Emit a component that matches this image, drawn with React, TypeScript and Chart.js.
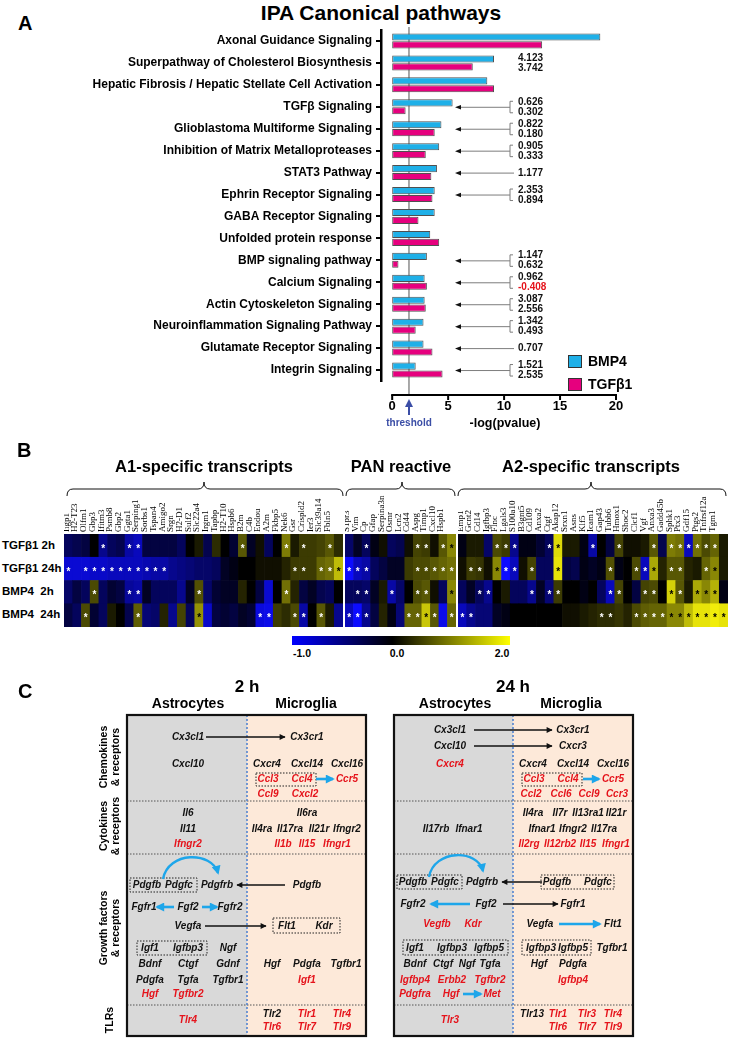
import React, { useEffect, useRef } from "react";
import { Chart, registerables } from "chart.js";

Chart.register(...registerables);

const FONT = '"Liberation Sans", Arial, Helvetica, sans-serif';
const SERIF = '"Liberation Serif", "Times New Roman", serif';
const RED = "#e5131b";
const BLUE_ARROW = "#1ea6ea";

// ---------------- Panel A data ----------------
const pathways = [
  "Axonal Guidance Signaling",
  "Superpathway of Cholesterol Biosynthesis",
  "Hepatic Fibrosis / Hepatic Stellate Cell Activation",
  "TGFβ Signaling",
  "Glioblastoma Multiforme Signaling",
  "Inhibition of Matrix Metalloproteases",
  "STAT3 Pathway",
  "Ephrin Receptor Signaling",
  "GABA Receptor Signaling",
  "Unfolded protein response",
  "BMP signaling pathway",
  "Calcium Signaling",
  "Actin Cytoskeleton Signaling",
  "Neuroinflammation Signaling Pathway",
  "Glutamate Receptor Signaling",
  "Integrin Signaling",
];
const bmp4Values = [18.6, 9.1, 8.5, 5.4, 4.4, 4.2, 4.0, 3.8, 3.8, 3.4, 3.1, 2.9, 2.9, 2.8, 2.8, 2.1];
const tgfb1Values = [13.4, 7.2, 9.1, 1.2, 3.8, 3.0, 3.5, 3.6, 2.35, 4.2, 0.56, 3.1, 3.0, 2.1, 3.6, 4.5];
const zScoreBMP4 = ["", "4.123", "", "0.626", "0.822", "0.905", "1.177", "2.353", "", "", "1.147", "0.962", "3.087", "1.342", "0.707", "1.521"];
const zScoreTGFB1 = ["", "3.742", "", "0.302", "0.180", "0.333", "", "0.894", "", "", "0.632", "-0.408", "2.556", "0.493", "", "2.535"];
const zArrow = [0, 0, 0, 1, 1, 1, 1, 1, 0, 0, 1, 1, 1, 1, 1, 1];
const xTickValues = [0, 5, 10, 15, 20];
const thresholdValue = 1.5;

// ---------------- Panel B data ----------------
const heatRowLabels = ["TGFβ1 2h", "TGFβ1 24h", "BMP4  2h", "BMP4  24h"];
const a1Genes = ["Igtp", "Iigp1", "H2-T23", "Olfm1", "Gbp3", "Ifitm3", "Psmb8", "Gbp2", "Ggta1", "Serping1", "Sorbs1", "Tspan4", "Amigo2", "Srgn", "H2-D1", "Sulf2", "Slc22a4", "Irgm1", "Tapbp", "H2-T10", "Hspb6", "B2m", "C4b", "Endou", "A2m", "Fkbp5", "Nek6", "Gsr", "Crispld2", "Ier3", "Slc39a14", "Fbln5"];
const panGenes = ["Steap4", "S1pr3", "Vim", "Cp", "Gfap", "Serpina3n", "Osmr", "Lcn2", "Cd44", "Aspg", "Timp1", "Cxcl10", "Hspb1"];
const a2Genes = ["Tm4sf1", "Emp1", "Gcnt2", "Cd14", "Igfbp3", "Flnc", "Lgals3", "S100a10", "B3gnt5", "Cd109", "Anxa2", "Ctgf", "Akap12", "Srxn1", "Asns", "Klf5", "Icam1", "Gap43", "Tubb6", "Hmox1", "Shoc2", "Clcf1", "Vgf", "Anxa3", "Gadd45b", "Sphk1", "Ptx3", "Gdf15", "Ptgs2", "Tnfrsf12a", "Tgm1"];

const a1TGF2h = [-0.3, -0.25, -0.2, 0, -0.5, -0.3, -0.25, -0.6, -0.7, -0.2, -0.2, -0.2, -0.2, -0.3, 0, 0.1, -0.25, 0.2, 0, -0.15, 0.5, -0.1, 0.05, -0.3, 0, 0.8, 0.1, 0.3, 0.3, 0.35, 0.5, 0.2];
const a1TGF24h = [-0.8, -0.8, -0.8, -0.75, -0.75, -0.7, -0.7, -0.7, -0.7, -0.65, -0.6, -0.6, -0.5, -0.45, -0.4, -0.35, -0.35, -0.3, -0.1, -0.05, 0, 0, 0.05, 0.05, 0.05, 0.15, 0.3, 0.3, 0.3, 0.6, 0.7, 1.4];
const a1BMP2h = [-0.35, -0.2, -0.3, 0.4, -0.3, -0.15, -0.2, -0.55, -0.6, -0.1, -0.3, -0.3, -0.3, -0.5, -0.1, 0.45, -0.35, -0.15, -0.1, -0.1, 0.15, 0, -0.2, -0.8, 0, 0.7, 0.15, -0.2, -0.1, -0.25, -0.3, 0];
const a1BMP24h = [-0.2, -0.3, 0.4, -0.15, -0.3, 0.1, 0, -0.25, 0.55, -0.4, -0.35, 0.15, -0.5, 0.35, -0.3, 1.0, -0.75, -0.2, -0.15, -0.2, -0.1, -0.15, -0.85, -0.9, 0.3, 0.2, 0.4, -0.6, 0, 0.5, 0.1, -0.5];

const panTGF2h = [-0.35, -0.1, -0.3, -0.05, 0.05, -0.3, -0.25, 0.05, 0.35, 0.3, 0.05, 0.5, 0.9];
const panTGF24h = [-1.0, -0.7, -0.6, -0.3, -0.2, -0.1, -0.1, 0.3, 0.4, 0.4, 0.5, 0.6, 0.7];
const panBMP2h = [-0.3, -0.3, -0.35, -0.1, 0.1, -0.6, -0.35, 0, 0.4, 0.5, 0.05, -0.3, 0.9];
const panBMP24h = [-0.7, -1.0, -0.5, -0.2, 0.15, -0.05, -0.4, 0.6, 0.6, 1.5, 0.5, -0.9, 0.6];

const a2TGF2h = [-0.05, 0.1, 0.1, -0.35, 0.4, 0.3, -0.5, -0.05, -0.05, -0.15, -0.3, 1.7, 0.1, 0.1, -0.05, -0.6, 0, -0.2, 0.35, 0.05, 0.05, 0.1, 0.5, -0.25, 0.8, 0.7, -0.7, 0.7, 0.4, 0.6, 0.1];
const a2TGF24h = [0.05, 0.3, 0.25, 0.05, 0.9, -1.0, -0.7, 0.05, 0.35, -0.3, -0.3, 1.8, -0.2, -0.25, -0.05, -0.1, -0.05, 0.45, -0.05, 0, 0.4, -0.7, 1.2, 0.15, 0.5, 0.5, 0.15, 0.1, 0.6, 0.9, 0.1];
const a2BMP2h = [-0.3, -0.1, -0.3, -0.5, 0, 0.1, -0.3, -0.3, -0.5, -0.1, -0.4, 0.3, 0, 0, -0.05, 0, -0.3, -0.7, 0.35, 0, -0.2, 0.35, 0.4, 0, 1.6, 0.5, 0.1, 1.2, 0.9, 1.3, -0.05];
const a2BMP24h = [-0.7, -0.5, -0.4, -0.4, -0.1, -0.05, 0, 0, 0, 0, 0, 0, 0.05, 0.05, 0.1, 0.15, 0.2, 0.2, 0.25, 0.15, 0.4, 0.55, 0.6, 0.6, 0.9, 0.9, 1.4, 1.8, 1.8, 1.9, 1.8];

// significance stars (gene indices)
const a1StarsTGF2h = [4, 7, 8, 20, 25, 27, 30];
const a1StarsTGF24h = [0, 2, 3, 4, 5, 6, 7, 8, 9, 10, 11, 26, 27, 29, 30, 31];
const a1StarsBMP2h = [3, 7, 8, 15, 25];
const a1StarsBMP24h = [2, 8, 15, 22, 23, 26, 27, 29];
const panStarsTGF2h = [2, 8, 9, 11, 12];
const panStarsTGF24h = [0, 1, 2, 8, 9, 10, 11, 12];
const panStarsBMP2h = [1, 2, 5, 8, 9, 12];
const panStarsBMP24h = [0, 1, 2, 7, 8, 9, 10, 12];
const a2StarsTGF2h = [4, 5, 6, 10, 11, 15, 18, 22, 24, 25, 26, 27, 28, 29];
const a2StarsTGF24h = [1, 2, 4, 5, 6, 8, 11, 17, 20, 21, 22, 24, 25, 28, 29];
const a2StarsBMP2h = [2, 3, 8, 10, 11, 17, 18, 21, 22, 24, 25, 27, 28, 29];
const a2StarsBMP24h = [0, 1, 16, 17, 20, 21, 22, 23, 24, 25, 26, 27, 28, 29, 30];

const colorbarTicks = ["-1.0", "0.0", "2.0"];

// ---------------- helpers ----------------
const heatColor = (v: number) => {
  if (v < 0) {
    const t = Math.pow(Math.min(1, -v), 0.85);
    return `rgb(${Math.round(12 * t)},${Math.round(12 * t)},${Math.round(255 * t)})`;
  }
  const t = Math.pow(Math.min(1, v / 2), 0.75);
  return `rgb(${Math.round(250 * t)},${Math.round(246 * t)},${Math.round(10 * t)})`;
};

const panelAPlugin = {
  id: "panelAExtras",
  beforeDatasetsDraw(chart: any) {
    const { ctx, chartArea, scales } = chart;
    const x = scales.x;
    const axisY = chartArea.bottom + 14;
    const tx = x.getPixelForValue(thresholdValue);
    ctx.save();
    ctx.strokeStyle = "#8c8c8c";
    ctx.lineWidth = 1.5;
    ctx.beginPath();
    ctx.moveTo(tx, chartArea.top - 3);
    ctx.lineTo(tx, axisY);
    ctx.stroke();
    ctx.restore();
  },
  afterDatasetsDraw(chart: any) {
    const { ctx, chartArea, scales } = chart;
    const x = scales.x;
    const y = scales.y;
    const axisY = chartArea.bottom + 14;
    ctx.save();
    ctx.strokeStyle = "#000";
    ctx.lineWidth = 2;
    ctx.beginPath();
    ctx.moveTo(x.getPixelForValue(0) - 1, axisY);
    ctx.lineTo(x.getPixelForValue(20) + 1, axisY);
    ctx.stroke();
    xTickValues.forEach((v) => {
      const px = x.getPixelForValue(v);
      ctx.beginPath();
      ctx.moveTo(px, axisY);
      ctx.lineTo(px, axisY + 5);
      ctx.stroke();
    });
    // threshold arrow
    const tx = x.getPixelForValue(thresholdValue);
    ctx.strokeStyle = "#3b4ea6";
    ctx.fillStyle = "#3b4ea6";
    ctx.lineWidth = 2;
    ctx.beginPath();
    ctx.moveTo(tx, axisY + 20);
    ctx.lineTo(tx, axisY + 10);
    ctx.stroke();
    ctx.beginPath();
    ctx.moveTo(tx, axisY + 4);
    ctx.lineTo(tx - 4, axisY + 12);
    ctx.lineTo(tx + 4, axisY + 12);
    ctx.closePath();
    ctx.fill();

    // z-score annotations
    const textX = 518;
    const brX = 510;
    const tipX = 455;
    ctx.font = `bold 10px ${FONT}`;
    ctx.textBaseline = "middle";
    ctx.textAlign = "left";
    pathways.forEach((_, i) => {
      const top = zScoreBMP4[i];
      const bot = zScoreTGFB1[i];
      if (!top && !bot) return;
      const yc = y.getPixelForValue(i);
      const single = !bot;
      if (single) {
        ctx.fillStyle = "#111";
        ctx.fillText(top, textX, yc + 0.5);
      } else {
        ctx.fillStyle = "#111";
        ctx.fillText(top, textX, yc - 4.7);
        ctx.fillStyle = bot.startsWith("-") ? RED : "#111";
        ctx.fillText(bot, textX, yc + 5.3);
      }
      if (!zArrow[i]) return;
      ctx.strokeStyle = "#7d7d7d";
      ctx.lineWidth = 1;
      if (!single) {
        ctx.beginPath();
        ctx.moveTo(brX + 3, yc - 5.5);
        ctx.lineTo(brX, yc - 5.5);
        ctx.lineTo(brX, yc + 6);
        ctx.lineTo(brX + 3, yc + 6);
        ctx.stroke();
      }
      ctx.beginPath();
      ctx.moveTo(single ? brX + 4 : brX, yc + 0.5);
      ctx.lineTo(tipX + 4, yc + 0.5);
      ctx.stroke();
      ctx.fillStyle = "#111";
      ctx.beginPath();
      ctx.moveTo(tipX, yc + 0.5);
      ctx.lineTo(tipX + 6, yc - 1.8);
      ctx.lineTo(tipX + 6, yc + 2.8);
      ctx.closePath();
      ctx.fill();
    });
    ctx.restore();
  },
};

const starPlugin = {
  id: "heatStars",
  afterDatasetsDraw(chart: any) {
    const ctx = chart.ctx;
    ctx.save();
    ctx.font = `bold 10px ${FONT}`;
    ctx.textAlign = "center";
    ctx.textBaseline = "alphabetic";
    chart.data.datasets.forEach((ds: any, di: number) => {
      const meta = chart.getDatasetMeta(di);
      ds.starIdx.forEach((i: number) => {
        const el: any = meta.data[i];
        if (!el) return;
        const cy = (el.y + el.base) / 2;
        ctx.fillStyle = ds.heat[i] > 0.85 ? "#000" : "#fff";
        ctx.fillText("*", el.x, cy + 6);
      });
    });
    ctx.restore();
  },
};

function PanelAChart() {
  const ref = useRef<HTMLCanvasElement>(null);
  useEffect(() => {
    if (!ref.current) return;
    const chart = new Chart(ref.current, {
      type: "bar",
      data: {
        labels: pathways,
        datasets: [
          {
            label: "BMP4",
            data: bmp4Values,
            backgroundColor: "#1fb0e8",
            borderColor: "#505050",
            borderWidth: 1,
            borderSkipped: false,
            categoryPercentage: 0.72,
            barPercentage: 0.9,
          },
          {
            label: "TGFβ1",
            data: tgfb1Values,
            backgroundColor: "#e6007e",
            borderColor: "#505050",
            borderWidth: 1,
            borderSkipped: false,
            categoryPercentage: 0.72,
            barPercentage: 0.9,
          },
        ],
      },
      options: {
        indexAxis: "y",
        animation: false,
        responsive: false,
        maintainAspectRatio: false,
        layout: { padding: { top: 30, right: 114, left: 0, bottom: 0 } },
        plugins: { legend: { display: false }, tooltip: { enabled: false } },
        scales: {
          x: {
            type: "linear",
            min: -1,
            max: 20,
            afterBuildTicks: (s: any) => {
              s.ticks = xTickValues.map((v) => ({ value: v }));
            },
            afterFit: (s: any) => {
              s.height = 59;
              s.paddingLeft = 0;
              s.paddingRight = 0;
            },
            grid: { display: false, drawTicks: false },
            border: { display: false },
            ticks: {
              padding: 18,
              color: "#000",
              font: { family: FONT, size: 13, weight: "bold" },
            },
          },
          y: {
            afterFit: (s: any) => {
              s.width = 381;
              s.paddingTop = 0;
              s.paddingBottom = 0;
            },
            grid: {
              display: true,
              offset: false,
              drawOnChartArea: false,
              drawTicks: true,
              tickLength: 5,
              color: "#000",
              lineWidth: 2,
            },
            border: { display: true, color: "#000", width: 2.5 },
            ticks: {
              autoSkip: false,
              padding: 4,
              color: "#000",
              font: { family: FONT, size: 12, weight: "bold" },
            },
          },
        },
      } as any,
      plugins: [panelAPlugin],
    });
    return () => chart.destroy();
  }, []);
  return (
    <canvas
      ref={ref}
      width={730}
      height={440}
      style={{ position: "absolute", left: 0, top: 0, width: 730, height: 440 }}
    />
  );
}

function HeatMap(props: { genes: string[]; rows: number[][]; stars: number[][]; left: number; width: number }) {
  const { genes, rows, stars, left, width } = props;
  const ref = useRef<HTMLCanvasElement>(null);
  useEffect(() => {
    if (!ref.current) return;
    const datasets = rows
      .map((vals, r) => ({
        label: heatRowLabels[r],
        data: vals.map(() => 1),
        heat: vals,
        starIdx: stars[r],
        backgroundColor: vals.map(heatColor),
        borderWidth: 0,
        barPercentage: 1,
        categoryPercentage: 1,
      }))
      .reverse();
    const chart = new Chart(ref.current, {
      type: "bar",
      data: { labels: genes, datasets: datasets as any },
      options: {
        animation: false,
        responsive: false,
        maintainAspectRatio: false,
        layout: { padding: 0 },
        plugins: { legend: { display: false }, tooltip: { enabled: false } },
        scales: {
          x: {
            position: "top",
            stacked: true,
            afterFit: (s: any) => {
              s.height = 39;
              s.paddingLeft = 0;
              s.paddingRight = 0;
            },
            grid: { display: false, drawTicks: false },
            border: { display: false },
            ticks: {
              autoSkip: false,
              minRotation: 90,
              maxRotation: 90,
              padding: 2,
              color: "#000",
              font: { family: SERIF, size: 9 },
            },
          },
          y: { stacked: true, display: false, min: 0, max: 4 },
        },
      } as any,
      plugins: [starPlugin],
    });
    return () => chart.destroy();
  }, []);
  return (
    <canvas
      ref={ref}
      width={width}
      height={132}
      style={{ position: "absolute", left, top: 495, width, height: 132 }}
    />
  );
}

// ---------------- small text helpers ----------------
function Txt(props: { x: number; y: number; size: number; children: any; color?: string; italic?: boolean; align?: string }) {
  const { x, y, size, children, color, italic, align } = props;
  const tx = align === "left" ? "0" : align === "right" ? "-100%" : "-50%";
  return (
    <div
      style={{
        position: "absolute",
        left: x,
        top: y,
        transform: `translate(${tx},-50%)`,
        font: `${italic ? "italic " : ""}bold ${size}px ${FONT}`,
        color: color || "#000",
        whiteSpace: "nowrap",
        lineHeight: 1.15,
      }}
    >
      {children}
    </div>
  );
}

type GeneItem = [string, number, number, boolean?];

const genes2h: GeneItem[] = [
  ["Cx3cl1", 188, 737], ["Cx3cr1", 307, 737], ["Cxcl10", 188, 764], ["Cxcr4", 267, 764], ["Cxcl14", 307, 764], ["Cxcl16", 347, 764],
  ["Ccl3", 268, 779, true], ["Ccl4", 302, 779, true], ["Ccr5", 347, 779, true], ["Ccl9", 268, 794, true], ["Cxcl2", 305, 794, true],
  ["Il6", 188, 813], ["Il11", 188, 829], ["Ifngr2", 188, 844, true], ["Il6ra", 307, 813], ["Il4ra", 262, 829], ["Il17ra", 290, 829],
  ["Il21r", 319, 829], ["Ifngr2", 347, 829], ["Il1b", 283, 844, true], ["Il15", 307, 844, true], ["Ifngr1", 337, 844, true],
  ["Pdgfb", 147, 885], ["Pdgfc", 179, 885], ["Pdgfrb", 217, 885], ["Pdgfb", 307, 885],
  ["Fgfr1", 144, 907], ["Fgf2", 188, 907], ["Fgfr2", 230, 907],
  ["Vegfa", 188, 926], ["Flt1", 287, 926], ["Kdr", 324, 926],
  ["Igf1", 150, 948], ["Igfbp3", 188, 948], ["Ngf", 228, 948],
  ["Bdnf", 150, 964], ["Ctgf", 188, 964], ["Gdnf", 228, 964], ["Hgf", 272, 964], ["Pdgfa", 307, 964], ["Tgfbr1", 346, 964],
  ["Pdgfa", 150, 980], ["Tgfa", 188, 980], ["Tgfbr1", 228, 980], ["Igf1", 307, 980, true],
  ["Hgf", 150, 994, true], ["Tgfbr2", 188, 994, true],
  ["Tlr4", 188, 1020, true], ["Tlr2", 272, 1014], ["Tlr1", 307, 1014, true], ["Tlr4", 342, 1014, true],
  ["Tlr6", 272, 1027, true], ["Tlr7", 307, 1027, true], ["Tlr9", 342, 1027, true],
];

const genes24h: GeneItem[] = [
  ["Cx3cl1", 450, 730], ["Cx3cr1", 573, 730], ["Cxcl10", 450, 746], ["Cxcr3", 573, 746], ["Cxcr4", 450, 764, true],
  ["Cxcr4", 533, 764], ["Cxcl14", 573, 764], ["Cxcl16", 613, 764],
  ["Ccl3", 534, 779, true], ["Ccl4", 568, 779, true], ["Ccr5", 613, 779, true],
  ["Ccl2", 531, 794, true], ["Ccl6", 561, 794, true], ["Ccl9", 589, 794, true], ["Ccr3", 617, 794, true],
  ["Il4ra", 533, 813], ["Il7r", 560, 813], ["Il13ra1", 588, 813], ["Il21r", 616, 813],
  ["Ifnar1", 542, 829], ["Ifngr2", 573, 829], ["Il17ra", 604, 829],
  ["Il2rg", 529, 844, true], ["Il12rb2", 560, 844, true], ["Il15", 588, 844, true], ["Ifngr1", 616, 844, true],
  ["Il17rb", 436, 829], ["Ifnar1", 469, 829],
  ["Pdgfb", 413, 882], ["Pdgfc", 445, 882], ["Pdgfrb", 482, 882], ["Pdgfb", 557, 882], ["Pdgfc", 598, 882],
  ["Fgfr2", 413, 904], ["Fgf2", 486, 904], ["Fgfr1", 573, 904],
  ["Vegfb", 437, 924, true], ["Kdr", 473, 924, true], ["Vegfa", 540, 924], ["Flt1", 613, 924],
  ["Igf1", 415, 948], ["Igfbp3", 452, 948], ["Igfbp5", 489, 948], ["Igfbp3", 541, 948], ["Igfbp5", 573, 948], ["Tgfbr1", 612, 948],
  ["Bdnf", 415, 964], ["Ctgf", 443, 964], ["Ngf", 467, 964], ["Tgfa", 490, 964], ["Hgf", 539, 964], ["Pdgfa", 573, 964],
  ["Igfbp4", 415, 980, true], ["Erbb2", 452, 980, true], ["Tgfbr2", 490, 980, true], ["Igfbp4", 573, 980, true],
  ["Pdgfra", 415, 994, true], ["Hgf", 451, 994, true], ["Met", 492, 994, true],
  ["Tlr3", 450, 1020, true], ["Tlr13", 532, 1014], ["Tlr1", 558, 1014, true], ["Tlr3", 587, 1014, true], ["Tlr4", 613, 1014, true],
  ["Tlr6", 558, 1027, true], ["Tlr7", 587, 1027, true], ["Tlr9", 613, 1027, true],
];

const brace = (x0: number, x1: number, xm: number) =>
  `M${x0},496 Q${x0},489 ${x0 + 6},489 L${xm - 6},489 Q${xm},489 ${xm},482 Q${xm},489 ${xm + 6},489 L${x1 - 6},489 Q${x1},489 ${x1},496`;

function SideLabel(props: { y: number; lines: string[] }) {
  return (
    <div
      style={{
        position: "absolute",
        left: 109,
        top: props.y,
        transform: "translate(-50%,-50%) rotate(-90deg)",
        font: `bold 10.5px ${FONT}`,
        lineHeight: "12px",
        textAlign: "center",
        whiteSpace: "nowrap",
      }}
    >
      {props.lines.map((l, i) => (
        <div key={i}>{l}</div>
      ))}
    </div>
  );
}

function BoxFrame(props: { left: number; mid: number; right: number }) {
  const { left, mid, right } = props;
  const top = 715;
  const bottom = 1036;
  return (
    <g>
      <rect x={left} y={top} width={mid - left} height={bottom - top} fill="#d9d9d9" />
      <rect x={mid} y={top} width={right - mid} height={bottom - top} fill="#fde9d9" />
      {[801, 854, 1005].map((yy) => (
        <line key={yy} x1={left} x2={right} y1={yy} y2={yy} stroke="#555" strokeWidth={1} strokeDasharray="1.5,1.5" />
      ))}
      <line x1={mid} x2={mid} y1={top} y2={bottom} stroke="#4a7fd0" strokeWidth={1.5} strokeDasharray="2,2" />
      <rect x={left} y={top} width={right - left} height={bottom - top} fill="none" stroke="#111" strokeWidth={2.2} />
    </g>
  );
}

const dottedBoxes = [
  [256, 773, 60, 13], [130, 878, 67, 14], [273, 918, 67, 15], [137, 941, 70, 14],
  [522, 773, 60, 13], [397, 875, 65, 14], [541, 875, 73, 14], [403, 940, 105, 15], [522, 940, 69, 15],
];

const blackArrows = [
  [206, 737, 285, 737], [285, 885, 237, 885], [205, 926, 266, 926],
  [474, 730, 552, 730], [474, 746, 552, 746], [542, 882, 502, 882], [503, 904, 558, 904],
];
const blueArrows = [
  [316, 779, 333, 779], [174, 907, 157, 907], [202, 907, 217, 907],
  [583, 779, 599, 779], [470, 904, 431, 904], [559, 924, 600, 924], [463, 994, 481, 994],
];

export default function App() {
  const rowsY = [545.6, 568.9, 592.1, 615.4];
  return (
    <div
      style={{
        position: "absolute",
        left: 0,
        top: 0,
        width: 730,
        height: 1039,
        background: "#fff",
        overflow: "hidden",
        fontFamily: FONT,
      }}
    >
      {/* ---------- Panel A ---------- */}
      <Txt x={18} y={23} size={20} align="left">A</Txt>
      <Txt x={381} y={13} size={21}>IPA Canonical pathways</Txt>
      <PanelAChart />
      <Txt x={409} y={423} size={10} color="#3b4ea6">threshold</Txt>
      <Txt x={505} y={423} size={12.5}>-log(pvalue)</Txt>
      <div style={{ position: "absolute", left: 568, top: 355, width: 12, height: 11, background: "#1fb0e8", border: "1.5px solid #333" }} />
      <Txt x={588} y={361} size={14} align="left">BMP4</Txt>
      <div style={{ position: "absolute", left: 568, top: 378, width: 12, height: 11, background: "#e6007e", border: "1.5px solid #333" }} />
      <Txt x={588} y={384} size={14} align="left">TGFβ1</Txt>

      {/* ---------- Panel B ---------- */}
      <Txt x={17} y={450} size={20} align="left">B</Txt>
      <Txt x={204} y={466} size={16.5}>A1-specific transcripts</Txt>
      <Txt x={401} y={466} size={16.5}>PAN reactive</Txt>
      <Txt x={591} y={466} size={16.5}>A2-specific transcripts</Txt>
      {heatRowLabels.map((l, i) => (
        <Txt key={l} x={2} y={rowsY[i]} size={11.5} align="left">
          <span style={{ whiteSpace: "pre" }}>{l}</span>
        </Txt>
      ))}
      <HeatMap genes={a1Genes} rows={[a1TGF2h, a1TGF24h, a1BMP2h, a1BMP24h]} stars={[a1StarsTGF2h, a1StarsTGF24h, a1StarsBMP2h, a1StarsBMP24h]} left={64} width={279} />
      <HeatMap genes={panGenes} rows={[panTGF2h, panTGF24h, panBMP2h, panBMP24h]} stars={[panStarsTGF2h, panStarsTGF24h, panStarsBMP2h, panStarsBMP24h]} left={345} width={111} />
      <HeatMap genes={a2Genes} rows={[a2TGF2h, a2TGF24h, a2BMP2h, a2BMP24h]} stars={[a2StarsTGF2h, a2StarsTGF24h, a2StarsBMP2h, a2StarsBMP24h]} left={458} width={270} />
      <div
        style={{
          position: "absolute",
          left: 292,
          top: 636,
          width: 218,
          height: 9,
          background: "linear-gradient(to right, #0000ff 0%, #000000 46%, #ffff00 100%)",
        }}
      />
      <Txt x={302} y={653} size={10.5}>{colorbarTicks[0]}</Txt>
      <Txt x={397} y={653} size={10.5}>{colorbarTicks[1]}</Txt>
      <Txt x={502} y={653} size={10.5}>{colorbarTicks[2]}</Txt>

      {/* ---------- SVG overlay (braces, panel C frames & arrows) ---------- */}
      <svg width={730} height={1039} style={{ position: "absolute", left: 0, top: 0 }}>
        <defs>
          <marker id="hb" viewBox="0 0 10 10" refX="9" refY="5" markerWidth="7" markerHeight="6" orient="auto" markerUnits="userSpaceOnUse">
            <path d="M0,0 L10,5 L0,10 z" fill="#111" />
          </marker>
          <marker id="hu" viewBox="0 0 10 10" refX="8" refY="5" markerWidth="10" markerHeight="9" orient="auto" markerUnits="userSpaceOnUse">
            <path d="M0,0 L10,5 L0,10 z" fill={BLUE_ARROW} />
          </marker>
        </defs>
        <path d={brace(67, 343, 204)} fill="none" stroke="#111" strokeWidth={1} />
        <path d={brace(346, 455, 402)} fill="none" stroke="#111" strokeWidth={1} />
        <path d={brace(458, 726, 591)} fill="none" stroke="#111" strokeWidth={1} />

        <BoxFrame left={127} mid={247} right={366} />
        <BoxFrame left={394} mid={513} right={633} />
        {dottedBoxes.map(([x, y, w, h], i) => (
          <rect key={i} x={x} y={y} width={w} height={h} fill="none" stroke="#222" strokeWidth={1} strokeDasharray="1.5,1.5" />
        ))}
        {blackArrows.map(([x1, y1, x2, y2], i) => (
          <line key={i} x1={x1} y1={y1} x2={x2} y2={y2} stroke="#111" strokeWidth={1.3} markerEnd="url(#hb)" />
        ))}
        {blueArrows.map(([x1, y1, x2, y2], i) => (
          <line key={i} x1={x1} y1={y1} x2={x2} y2={y2} stroke={BLUE_ARROW} strokeWidth={2.6} markerEnd="url(#hu)" />
        ))}
        <path d="M163,879 C168,851 212,851 218,873" fill="none" stroke={BLUE_ARROW} strokeWidth={2.4} markerEnd="url(#hu)" />
        <path d="M429,877 C434,849 478,849 483,871" fill="none" stroke={BLUE_ARROW} strokeWidth={2.4} markerEnd="url(#hu)" />
      </svg>

      {/* ---------- Panel C ---------- */}
      <Txt x={18} y={691} size={20} align="left">C</Txt>
      <Txt x={247} y={687} size={17}>2 h</Txt>
      <Txt x={513} y={687} size={17}>24 h</Txt>
      <Txt x={188} y={703} size={14}>Astrocytes</Txt>
      <Txt x={306} y={703} size={14}>Microglia</Txt>
      <Txt x={455} y={703} size={14}>Astrocytes</Txt>
      <Txt x={571} y={703} size={14}>Microglia</Txt>
      <SideLabel y={757} lines={["Chemokines", "& receptors"]} />
      <SideLabel y={826} lines={["Cytokines", "& receptors"]} />
      <SideLabel y={928} lines={["Growth factors", "& receptors"]} />
      <SideLabel y={1020} lines={["TLRs"]} />
      {genes2h.concat(genes24h).map(([g, x, y, red], i) => (
        <Txt key={i} x={x} y={y} size={10} italic color={red ? RED : "#111"}>
          {g}
        </Txt>
      ))}
    </div>
  );
}
